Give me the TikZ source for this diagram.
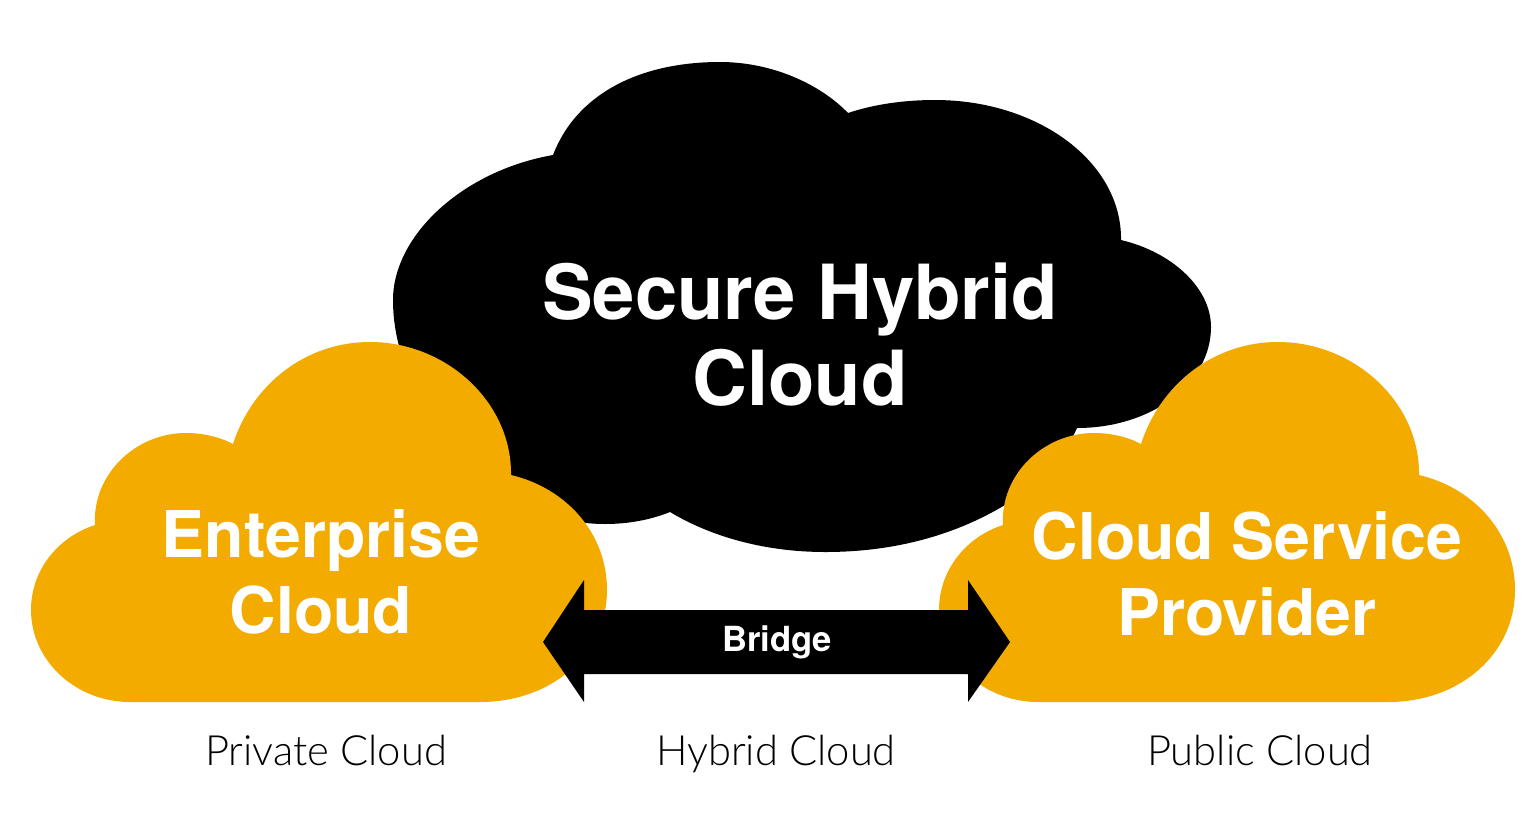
\documentclass[tikz,border=0pt]{standalone}
\usepackage{fontspec}
\setmainfont{TeX Gyre Heros}
\newfontfamily\lightfont{Lato Light}
\usepackage{tikz}
\usepackage{xcolor}
\definecolor{cloudorange}{HTML}{F3AB00}
\tikzset{
    x=1pt, y=-1pt,
    hybrid-cloud/.style = {fill=black, draw=none},
    side-cloud/.style = {fill=cloudorange, draw=none},
    bridge-arrow/.style = {fill=black, draw=none},
    big-title/.style = {text=white, align=center, font=\fontsize{76}{86}\selectfont\bfseries},
    side-title/.style = {text=white, align=center, font=\fontsize{64.4}{76}\selectfont\bfseries},
    bridge-title/.style = {text=white, anchor=base, font=\fontsize{34.6}{40}\selectfont\bfseries},
    under-title/.style = {text=black, anchor=base, font=\fontsize{41.7}{48}\selectfont\lightfont},
}
\newcommand{\sidecloud}{
    (95,525) .. controls (92,475) and (135,433) .. (186,433)
    .. controls (203,433) and (220,437) .. (233,444)
    .. controls (252,385) and (305,342) .. (370,342)
    .. controls (446,342) and (512,402) .. (511,475)
    .. controls (566,488) and (607,533) .. (607,590)
    .. controls (607,653) and (553,702) .. (480,702)
    -- (130,702)
    .. controls (75,702) and (31,660) .. (31,610)
    .. controls (31,570) and (58,537) .. (95,525) -- cycle
}
\begin{document}
\begin{tikzpicture}
\useasboundingbox (0,0) rectangle (1536,820);
% black cloud
\draw [hybrid-cloud] (553,155) .. controls (576,95) and (638,62) .. (720,62)
    .. controls (772,62) and (820,84) .. (848,113)
    .. controls (875,104) and (905,100) .. (935,100)
    .. controls (1038,100) and (1122,162) .. (1121,240)
    .. controls (1172,252) and (1211,288) .. (1211,327)
    .. controls (1211,383) and (1152,428) .. (1077,428)
    .. controls (1065,455) and (1040,485) .. (1005,505)
    .. controls (955,535) and (895,552) .. (825,552)
    .. controls (770,552) and (715,539) .. (670,512)
    .. controls (650,520) and (628,524) .. (605,524)
    .. controls (545,524) and (500,495) .. (490,462)
    .. controls (435,435) and (393,370) .. (393,300)
    .. controls (393,236) and (462,171) .. (553,155) -- cycle;
% orange clouds
\draw [side-cloud] \sidecloud;
\draw [side-cloud, xshift=908pt] \sidecloud;
% bridge
\draw [bridge-arrow] (543,642) -- (584,580) -- (584,610) -- (968,610) -- (968,580)
    -- (1010,642) -- (968,702) -- (968,674) -- (584,674) -- (584,702) -- cycle;
\node [big-title] (hybrid) at (800,335) {Secure Hybrid\\Cloud};
\node [side-title] (enterprise) at (321,571.5) {Enterprise\\Cloud};
\node [side-title] (provider) at (1247,573.5) {Cloud Service\\Provider};
\node [bridge-title] (bridge) at (777,651) {Bridge};
\node [under-title] (private) at (326,765) {Private Cloud};
\node [under-title] (mixed) at (776,765) {Hybrid Cloud};
\node [under-title] (public) at (1260,765) {Public Cloud};
\end{tikzpicture}
\end{document}
